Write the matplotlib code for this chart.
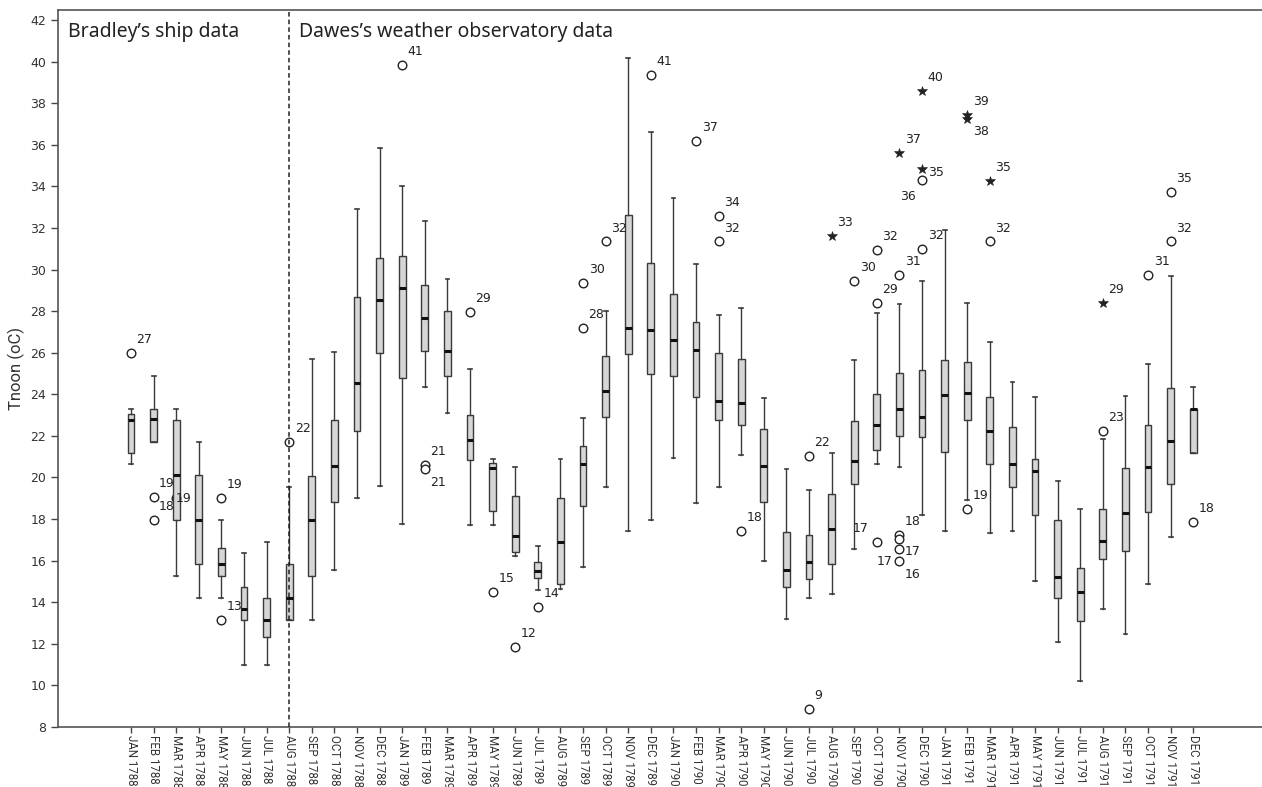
import numpy as np
import matplotlib
matplotlib.use("Agg")
import matplotlib.pyplot as plt

months = ["JAN", "FEB", "MAR", "APR", "MAY", "JUN", "JUL", "AUG", "SEP", "OCT", "NOV", "DEC"]
labels = [f"{m} {y}" for y in (1788, 1789, 1790, 1791) for m in months]

whislo = [20.64, 21.70, 15.27, 14.20, 14.20, 10.99, 10.99, 13.14, 13.14, 15.53, 19.02, 19.61,
          17.78, 24.36, 23.10, 17.73, 17.73, 16.23, 14.59, 14.63, 15.70, 19.55, 17.42, 17.95,
          20.95, 18.75, 19.55, 21.06, 15.97, 13.20, 14.22, 14.38, 16.56, 20.63, 20.51, 18.21,
          17.42, 18.91, 17.31, 17.42, 15.00, 12.07, 10.20, 13.67, 12.49, 14.90, 17.15, 21.19]
q1 = [21.17, 21.70, 17.95, 15.82, 15.27, 13.14, 12.33, 13.14, 15.27, 18.80, 22.23, 26.00,
      24.80, 26.09, 24.90, 20.82, 18.37, 16.42, 15.16, 14.86, 18.64, 22.92, 25.93, 24.97,
      24.90, 23.85, 22.76, 22.50, 18.80, 14.74, 15.12, 15.82, 19.67, 21.32, 22.00, 21.96,
      21.24, 22.76, 20.63, 19.55, 18.19, 14.20, 13.08, 16.08, 16.48, 18.35, 19.67, 21.19]
med = [22.76, 22.79, 20.12, 17.95, 15.82, 13.67, 13.14, 14.20, 17.95, 20.57, 24.52, 28.53,
       29.10, 27.68, 26.09, 21.80, 20.45, 17.20, 15.51, 16.91, 20.64, 24.15, 27.20, 27.10,
       26.63, 26.13, 23.66, 23.58, 20.55, 15.53, 15.92, 17.52, 20.79, 22.50, 23.30, 22.90,
       23.98, 24.04, 22.23, 20.63, 20.32, 15.23, 14.47, 16.96, 18.30, 20.51, 21.75, 23.30]
q3 = [23.05, 23.30, 22.76, 20.10, 16.62, 14.74, 14.22, 15.82, 20.08, 22.76, 28.66, 30.53,
      30.63, 29.26, 28.00, 23.01, 20.70, 19.12, 15.95, 19.02, 21.53, 25.84, 32.60, 30.32,
      28.82, 27.49, 25.98, 25.71, 22.34, 17.40, 17.25, 19.19, 22.71, 24.00, 25.00, 25.19,
      25.66, 25.56, 23.85, 22.44, 20.88, 17.94, 15.66, 18.50, 20.45, 22.50, 24.28, 23.30]
whishi = [23.30, 24.90, 23.30, 21.70, 17.95, 16.35, 16.88, 19.55, 25.72, 26.01, 32.93, 35.86,
          34.02, 32.33, 29.52, 25.22, 20.88, 20.51, 16.70, 20.88, 22.87, 28.00, 40.18, 36.63,
          33.46, 30.26, 27.80, 28.13, 23.83, 20.40, 19.39, 21.16, 25.66, 27.92, 28.34, 29.46,
          31.89, 28.40, 26.52, 24.60, 23.85, 19.83, 18.50, 21.86, 23.92, 25.45, 29.71, 24.36]

# outliers: (month index, value, marker)
out_idx = [0, 1, 1, 2, 4, 4, 7, 12, 13, 13, 15, 16, 17, 18, 20, 20, 21, 23, 25, 26, 26, 27,
           30, 30, 31, 32, 33, 33, 33, 34, 34, 34, 34, 34, 34, 35, 35, 35, 35,
           37, 37, 37, 38, 38, 43, 43, 45, 46, 46, 47]
out_val = [25.97, 19.04, 17.95, 19.00, 19.02, 13.14, 21.70, 39.83, 20.60, 20.40, 27.96, 14.49, 11.85, 13.78,
           29.36, 27.20, 31.35, 39.36, 36.20, 32.57, 31.35, 17.42,
           21.04, 8.87, 31.62, 29.46, 30.96, 28.40, 16.88, 35.60, 29.73, 17.23, 17.02, 16.56, 15.97,
           38.58, 34.81, 34.30, 31.00,
           37.42, 37.26, 18.50, 34.28, 31.35, 28.40, 22.23, 29.73, 33.74, 31.35, 17.84]
out_mark = ["o", "o", "o", "o", "o", "o", "o", "o", "o", "o", "o", "o", "o", "o",
            "o", "o", "o", "o", "o", "o", "o", "o",
            "o", "o", "*", "o", "o", "o", "o", "*", "o", "o", "o", "o", "o",
            "*", "*", "o", "o",
            "*", "*", "o", "*", "o", "*", "o", "o", "o", "o", "o"]
out_text = ["27", "19", "18", "19", "19", "13", "22", "41", "21", "21", "29", "15", "12", "14",
            "30", "28", "32", "41", "37", "34", "32", "18",
            "22", "9", "33", "30", "32", "29", "17", "37", "31", "18", "", "17", "17",
            "40", "35", "36", "32",
            "39", "38", "19", "35", "32", "29", "23", "31", "35", "32", "18"]
out_place = ["ur", "ur", "ur", "c", "ur", "ur", "ur", "ur", "ur", "dr", "ur", "ur", "ur", "ur",
             "ur", "ur", "ur", "ur", "ur", "ur", "ur", "ur",
             "ur", "ur", "ur", "ur", "ur", "ur", "ul", "ur", "ur", "ur", "ur", "r", "l",
             "ur", "r", "dl", "ur",
             "ur", "dr", "ur", "ur", "ur", "ur", "ur", "ur", "ur", "ur", "ur"]
extra_idx = [34]
extra_val = [15.97]
extra_text = ["16"]
extra_place = ["dr"]

W, H = 1262, 787
fig = plt.figure(figsize=(W / 100, H / 100), dpi=100)
ax = fig.add_axes([58 / W, 60 / H, (W - 58) / W, (727 - 10) / H])

pos = np.arange(len(labels))
stats = [dict(whislo=a, q1=b, med=c, q3=d, whishi=e, fliers=[])
         for a, b, c, d, e in zip(whislo, q1, med, q3, whishi)]
edge = "#3a3a3a"
ax.bxp(stats, positions=pos, widths=0.30, capwidths=0.17, patch_artist=True,
       showfliers=False, manage_ticks=False,
       boxprops=dict(facecolor="#d6d6d6", edgecolor=edge, linewidth=1.0),
       medianprops=dict(color="#111111", linewidth=2.2),
       whiskerprops=dict(color=edge, linewidth=1.0),
       capprops=dict(color=edge, linewidth=1.2), zorder=3)

# outliers
for i, v, m in zip(out_idx, out_val, out_mark):
    if m == "o":
        ax.plot(i, v, marker="o", ms=6.2, mfc="white", mec="#222222", mew=1.0,
                ls="none", zorder=2 if i == 2 else 4)
    else:
        ax.plot(i, v, marker="*", ms=7.5, mfc="#222222", mec="#222222", mew=0.4,
                ls="none", zorder=4)

offs = {"ur": ((4, 5), "left", "bottom"),
        "dr": ((4, -5), "left", "top"),
        "r": ((4, -2), "left", "center"),
        "l": ((-5, 0), "right", "center"),
        "ul": ((-6, 5), "right", "bottom"),
        "dl": ((-10, -7), "center", "top"),
        "c": ((5, 0), "center", "center")}


def put_label(i, v, t, p):
    if not t:
        return
    (dx, dy), ha, va = offs[p]
    ax.annotate(t, (i, v), xytext=(dx, dy), textcoords="offset points",
                ha=ha, va=va, fontsize=9, color="#222222", zorder=5)


for i, v, t, p in zip(out_idx, out_val, out_text, out_place):
    put_label(i, v, t, p)
for i, v, t, p in zip(extra_idx, extra_val, extra_text, extra_place):
    put_label(i, v, t, p)

# divider between the two data sources
ax.axvline(7, color="#222222", linestyle=(0, (3, 2)), linewidth=1.1, zorder=6)

ax.set_xlim(-3.23, 50.04)
ax.set_ylim(8, 42.48)
ax.set_yticks(np.arange(8, 43, 2))
ax.set_xticks(pos)
ax.set_xticklabels(labels, rotation=270, fontsize=8.3, color="#333333",
                   family=["Roboto", "DejaVu Sans"])
for lab in ax.get_yticklabels():
    lab.set_fontsize(9)
    lab.set_color("#333333")
ax.tick_params(axis="both", direction="out", length=5, width=1, color="#444444")
ax.tick_params(axis="x", pad=1.5, length=4.5)
ax.set_ylabel("Tnoon (oC)", fontsize=12, color="#333333",
              family=["Roboto", "DejaVu Sans"], labelpad=4)

for s in ("left", "bottom", "top"):
    ax.spines[s].set_color("#555555")
    ax.spines[s].set_linewidth(1.2)
ax.spines["right"].set_visible(False)

fig.text(68 / W, 1 - 37 / H, "Bradley\u2019s ship data", fontsize=14, color="#222222",
         family=["Noto Sans", "DejaVu Sans"], va="baseline")
fig.text(299 / W, 1 - 37 / H, "Dawes\u2019s weather observatory data", fontsize=14,
         color="#222222", family=["Noto Sans", "DejaVu Sans"], va="baseline")

fig.savefig("out.png", dpi=100)
